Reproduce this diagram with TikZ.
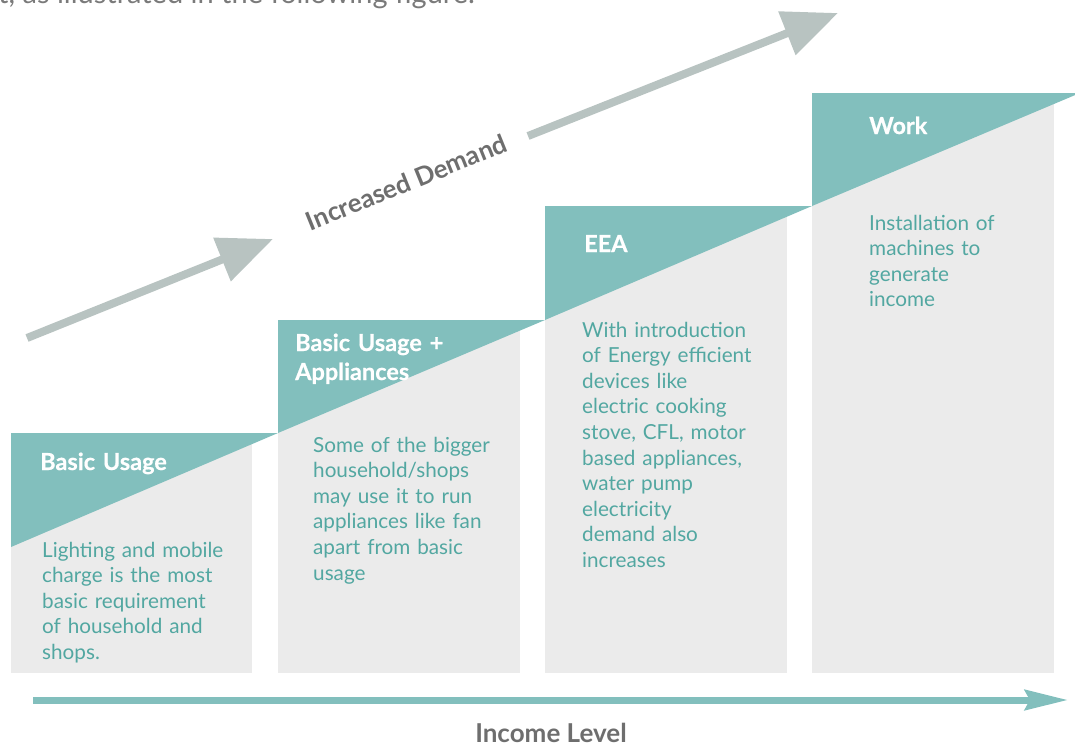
\documentclass[tikz,border=0pt]{standalone}
\usepackage{fontspec}
\setmainfont{Lato}
\newfontfamily\heavytitle[FakeBold=0.6]{Lato Bold}
\usetikzlibrary{arrows.meta}
\definecolor{tealfill}{HTML}{82BFBD}
\definecolor{tealtext}{HTML}{52A7A1}
\definecolor{greybox}{HTML}{EBEBEB}
\definecolor{arrowgrey}{HTML}{B8C3C1}
\definecolor{labelgrey}{HTML}{6E6E6E}
\definecolor{topgrey}{HTML}{7A7A7A}
\begin{document}
\begin{tikzpicture}[x=1pt,y=-1pt,
  panel/.style={fill=greybox},
  band/.style={fill=tealfill},
  title/.style={anchor=base west, inner sep=0pt, text=white, font={\fontsize{23.5}{29}\heavytitle}, align=left, text width=230pt},
  body/.style={anchor=base west, inner sep=0pt, text=tealtext, font={\fontsize{20.7}{25.6}\selectfont}, align=left, text width=230pt},
  demand/.style={draw=arrowgrey, line width=8pt, -{Triangle[length=55pt,width=45pt]}},
  income/.style={draw=tealfill, line width=7pt, -{Stealth[length=43pt,width=20pt,inset=5pt]}},
  axislabel/.style={inner sep=0pt, text=labelgrey, font={\fontsize{26}{30}\selectfont\bfseries}},
]
\useasboundingbox (0,0) rectangle (1075,744);
\clip (0,0) rectangle (1075,744);

% cut-off sentence at the top
\node[anchor=base west, inner sep=0pt, text=topgrey, font={\fontsize{29}{34}\selectfont}] (top) at (-2,4) {t, as illustrated in the following figure.};

% grey panels
\fill[panel] (11,444) rectangle (252,673);
\fill[panel] (278,331) rectangle (520,673);
\fill[panel] (545,217) rectangle (787,673);
\fill[panel] (812,104) rectangle (1054,673);

% teal bands
\fill[band] (11,433) -- (278,433) -- (11,547) -- cycle;
\fill[band] (278,320) -- (545,320) -- (278,433) -- cycle;
\fill[band] (545,206) -- (812,206) -- (545,320) -- cycle;
\fill[band] (812,93) -- (1080,93) -- (812,206) -- cycle;

% titles
\node[title] (t1) at (40,470) {Basic Usage};
\node[title] (t2) at (295,351) {Basic Usage +\\Appliances};
\node[title] (t3) at (584,252) {EEA};
\node[title] (t4) at (869,134) {Work};

% bodies
\node[body] (b1) at (42,557) {Lighting and mobile\\charge is the most\\basic requirement\\of household and\\shops.};
\node[body] (b2) at (313,452) {Some of the bigger\\household/shops\\may use it to run\\appliances like fan\\apart from basic\\usage};
\node[body] (b3) at (582,337) {With introduction\\of Energy efficient\\devices like\\electric cooking\\stove, CFL, motor\\based appliances,\\water pump\\electricity\\demand also\\increases};
\node[body] (b4) at (869,230) {Installation of\\machines to\\generate\\income};

% increased demand arrow
\coordinate (d1s) at (27,338);
\coordinate (d1e) at (273,239);
\coordinate (d2s) at (528,136);
\coordinate (d2e) at (838,13);
\draw[demand] (d1s) -- (d1e);
\draw[demand] (d2s) -- (d2e);
\node[axislabel, anchor=base, rotate=22, font={\fontsize{25.8}{30}\selectfont\bfseries}] (dem) at (410,191) {Increased Demand};

% income arrow
\coordinate (is) at (33,700);
\coordinate (ie) at (1068,700);
\draw[income] (is) -- (ie);
\node[axislabel, anchor=base] (inc) at (551,742) {Income Level};
\end{tikzpicture}
\end{document}
